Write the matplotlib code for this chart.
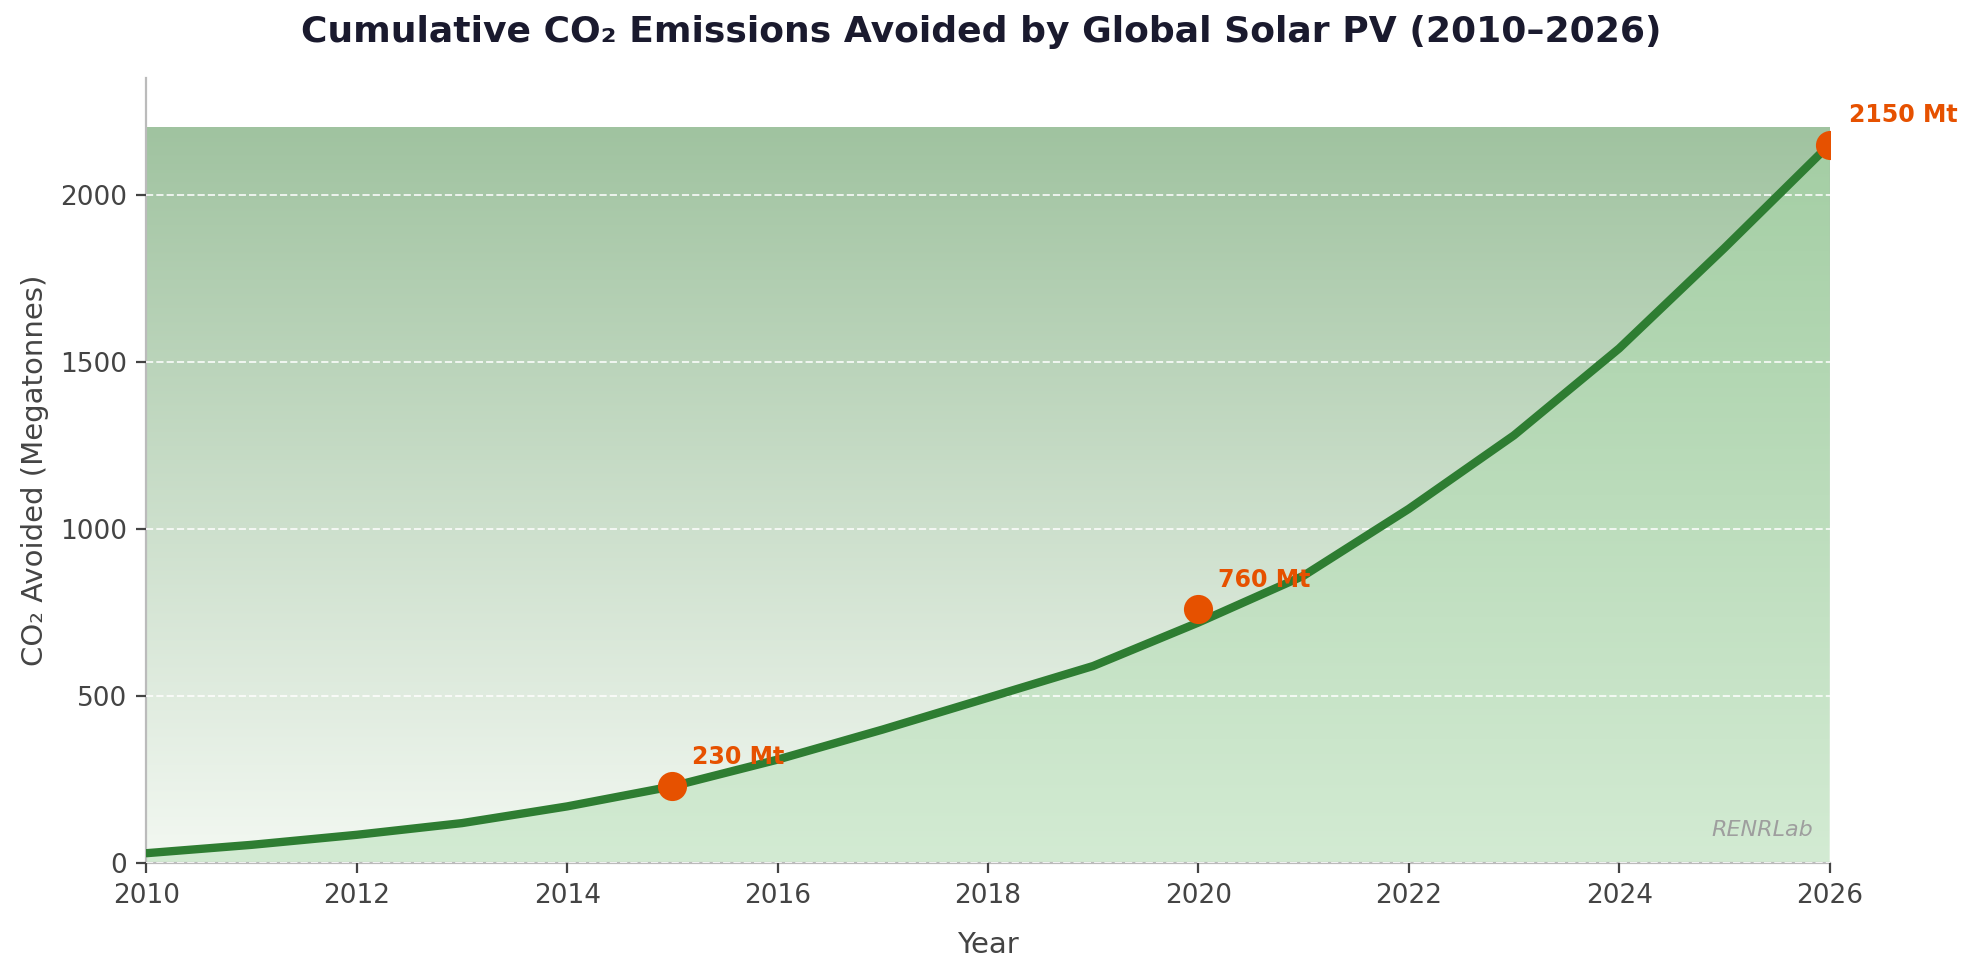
import matplotlib
matplotlib.use("Agg")
import matplotlib.pyplot as plt
import numpy as np
from matplotlib.colors import LinearSegmentedColormap

years = [2010,2011,2012,2013,2014,2015,2016,2017,2018,2019,2020,2021,2022,2023,2024,2025,2026]
co2 = [30,55,85,120,170,230,310,400,495,590,720,860,1060,1280,1540,1840,2150]
marker_years = [2015, 2020, 2026]
marker_vals = [230, 760, 2150]
marker_labels = ["230 Mt", "760 Mt", "2150 Mt"]

fig = plt.figure(figsize=(9.815, 4.855), dpi=200)
ax = fig.add_axes([0.0746, 0.111, 0.8574, 0.809])
ymax_fill = 2200
# background gradient
bg = LinearSegmentedColormap.from_list("bg", ["#f3f8f2", "#a0c3a0"])
grad = np.linspace(0, 1, 256).reshape(-1, 1)
ax.imshow(grad, cmap=bg, origin="lower", aspect="auto",
          extent=[years[0], years[-1], 0, ymax_fill], zorder=0)
# fill under line gradient
fg = LinearSegmentedColormap.from_list("fg", ["#d3ebd3", "#a3cda3"])
im = ax.imshow(grad, cmap=fg, origin="lower", aspect="auto",
               extent=[years[0], years[-1], 0, ymax_fill], zorder=1)
poly = ax.fill_between(years, 0, co2, color="none")
path = poly.get_paths()[0]
im.set_clip_path(path, transform=ax.transData)

ax.plot(years, co2, color="#2e7d32", lw=3, zorder=3, solid_capstyle="round")
ax.scatter(marker_years, marker_vals, s=90, color="#e65100", zorder=4)
for x, y, t in zip(marker_years, marker_vals, marker_labels):
    ax.annotate(t, (x, y), xytext=(7, 8), textcoords="offset points",
                color="#e65100", fontsize=8.5, fontweight="bold", zorder=5)

ax.set_xlim(2010, 2026)
ax.set_ylim(0, 2350)
ax.set_xticks(range(2010, 2027, 2))
ax.set_yticks([0, 500, 1000, 1500, 2000])
ax.grid(axis="y", color="white", ls="--", lw=0.7, alpha=0.8, zorder=2)
ax.set_axisbelow(False)
for s in ["top", "right"]:
    ax.spines[s].set_visible(False)
for s in ["left", "bottom"]:
    ax.spines[s].set_color("#bbbbbb")
ax.tick_params(colors="#444444", labelsize=9.5)
ax.set_xlabel("Year", fontsize=10.5, color="#444444", labelpad=8)
ax.set_ylabel("CO₂ Avoided (Megatonnes)", fontsize=10.5, color="#444444")
fig.suptitle("Cumulative CO₂ Emissions Avoided by Global Solar PV (2010–2026)",
             fontsize=13, fontweight="bold", color="#1a1a2e", y=0.985)
ax.text(0.99, 0.03, "RENRLab", transform=ax.transAxes, ha="right", va="bottom",
        fontsize=8, color="#9e9e9e", style="italic", zorder=5)
fig.savefig("out.png", dpi=200)
